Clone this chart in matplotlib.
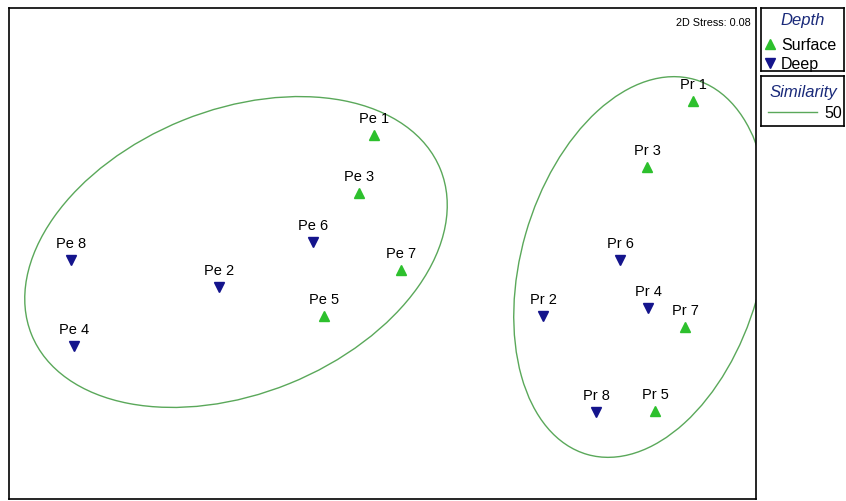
import numpy as np
import matplotlib
matplotlib.use('Agg')
import matplotlib.pyplot as plt
from matplotlib.patches import Ellipse

plt.rcParams['font.family'] = ['Liberation Sans', 'DejaVu Sans']

# MDS ordination coordinates (plot units, y grows downward)
labels = ['Pe 1', 'Pe 3', 'Pe 6', 'Pe 7', 'Pe 2', 'Pe 5', 'Pe 8', 'Pe 4',
          'Pr 1', 'Pr 3', 'Pr 6', 'Pr 4', 'Pr 7', 'Pr 2', 'Pr 8', 'Pr 5']
xs = [374, 359, 313, 401, 219, 324, 71, 74,
      693, 647, 620, 648, 685, 543, 596, 655]
ys = [136, 194, 243, 271, 288, 317, 261, 347,
      102, 168, 261, 309, 328, 317, 413, 412]
depth = ['Surface', 'Surface', 'Deep', 'Surface', 'Deep', 'Surface', 'Deep', 'Deep',
         'Surface', 'Surface', 'Deep', 'Deep', 'Surface', 'Deep', 'Deep', 'Surface']

# similarity 50 contours: centre x, centre y, width, height, angle
clusters_cx = [236, 641]
clusters_cy = [253, 268]
clusters_w = [441, 390]
clusters_h = [284, 240]
clusters_ang = [-22.0, -74.0]

stress = 0.08
similarity_level = 50

green = '#2dc02d'
navy = '#14148c'
ell_col = '#5aa85a'
title_col = '#1a2a7a'

fig = plt.figure(figsize=(8.46, 5.02), dpi=100)
W, H = 846, 502
ax = fig.add_axes([9 / W, 2 / H, 747 / W, 491 / H])
ax.set_xlim(9, 756)
ax.set_ylim(500, 9)
ax.set_xticks([])
ax.set_yticks([])
for s in ax.spines.values():
    s.set_linewidth(1.2)
    s.set_color('black')

for cx, cy, w, h, a in zip(clusters_cx, clusters_cy, clusters_w, clusters_h, clusters_ang):
    ax.add_patch(Ellipse((cx, cy), w, h, angle=a, fill=False,
                         edgecolor=ell_col, lw=1.0))

for lab, x, y, d in zip(labels, xs, ys, depth):
    if d == 'Surface':
        ax.plot(x, y, marker='^', color=green, ms=7, mec=green, ls='none')
    else:
        ax.plot(x, y, marker='v', color=navy, ms=7, mec=navy, ls='none')
    ax.annotate(lab, (x, y), xytext=(0, 7.5), textcoords='offset points',
                ha='center', va='bottom', fontsize=10.5)

ax.text(0.993, 0.981, f'2D Stress: {stress:.2f}', transform=ax.transAxes,
        ha='right', va='top', fontsize=7.8)

# legend: Depth
lg1 = fig.add_axes([761 / W, 1 - 72 / H, 83 / W, 63 / H])
lg1.set_xlim(0, 83)
lg1.set_ylim(63, 0)
lg1.set_xticks([])
lg1.set_yticks([])
for s in lg1.spines.values():
    s.set_linewidth(1.2)
lg1.text(42, 11, 'Depth', style='italic', color=title_col, ha='center', va='center', fontsize=12)
lg1.plot(9, 36, marker='^', color=green, ms=7, ls='none')
lg1.text(20, 36, 'Surface', ha='left', va='center', fontsize=11.5)
lg1.plot(9, 55, marker='v', color=navy, ms=7, ls='none')
lg1.text(20, 55, 'Deep', ha='left', va='center', fontsize=11.5)

# legend: Similarity
lg2 = fig.add_axes([761 / W, 1 - 127 / H, 83 / W, 50 / H])
lg2.set_xlim(0, 83)
lg2.set_ylim(50, 0)
lg2.set_xticks([])
lg2.set_yticks([])
for s in lg2.spines.values():
    s.set_linewidth(1.2)
lg2.text(42, 15, 'Similarity', style='italic', color=title_col, ha='center', va='center', fontsize=12)
lg2.plot([7, 56], [36, 36], color=ell_col, lw=1.0)
lg2.text(81, 36, str(similarity_level), ha='right', va='center', fontsize=11.5)

fig.savefig('out.png', dpi=100, facecolor='white')
